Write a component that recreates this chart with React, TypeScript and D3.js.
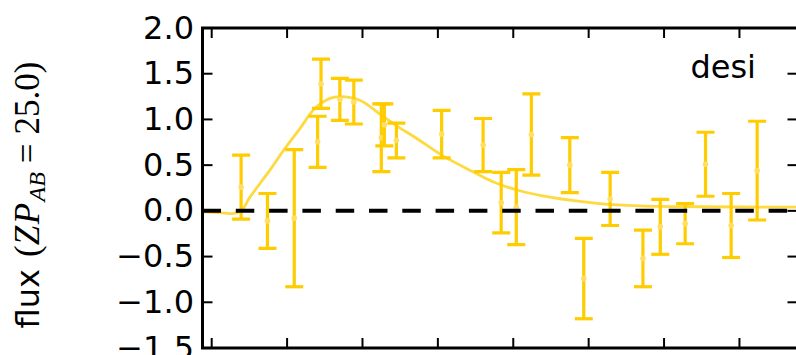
import React from "react";
import * as d3 from "d3";

const xTicks = [-20, 0, 20, 40, 60, 80, 100, 120];
const yTicks = [-1.5, -1.0, -0.5, 0.0, 0.5, 1.0, 1.5, 2.0];

const obsPhase = [-12.2, -5.2, 1.9, 8.1, 9.0, 14.0, 17.7, 25.0, 25.8, 29.0, 41.0, 52.0, 56.8, 60.8, 64.8, 75.0, 78.7, 85.7, 94.4, 99.0, 105.6, 111.0, 117.8, 124.7];
const obsFlux = [0.26, -0.11, -0.08, 0.755, 1.39, 1.22, 1.19, 0.8, 0.94, 0.77, 0.84, 0.72, 0.09, 0.04, 0.835, 0.5, -0.74, 0.13, -0.52, -0.175, -0.14, 0.51, -0.16, 0.44];
const obsErr = [0.35, 0.3, 0.75, 0.28, 0.27, 0.23, 0.24, 0.37, 0.23, 0.19, 0.26, 0.29, 0.33, 0.41, 0.445, 0.3, 0.44, 0.29, 0.31, 0.3, 0.22, 0.35, 0.35, 0.54];

const modelPhase = [-22.4, -17.8, -14.6, -12.2, -9.85, -4.55, -0.6, 3.4, 7.35, 11.35, 14.0, 19.3, 24.9, 29.1, 35.2, 41.0, 49.2, 55.1, 61.7, 69.7, 82.9, 93.5, 109.4, 135.4];
const modelFlux = [-0.01, -0.02, -0.03, 0.0, 0.15, 0.445, 0.68, 0.9, 1.12, 1.23, 1.25, 1.21, 1.05, 0.93, 0.77, 0.61, 0.43, 0.31, 0.22, 0.15, 0.08, 0.055, 0.045, 0.04];

const bandLabel = "desi";

export default function App() {
  const W = 796, H = 355;
  const x = d3.scaleLinear().domain([-22.44, 135.4]).range([202.5, 797.5]);
  const y = d3.scaleLinear().domain([-1.5, 2.0]).range([348, 28]);
  const [x0, x1] = x.range();
  const [yb, yt] = y.range();

  const modelPts = modelPhase.map((p, i) => [p, modelFlux[i]] as [number, number]);
  const line = d3
    .line<[number, number]>()
    .x((d) => x(d[0]))
    .y((d) => y(d[1]))
    .curve(d3.curveCatmullRom.alpha(0.5));

  const gold = "#ffcc00";
  const tickLen = 10;
  const cap = 9;
  const serif = "Liberation Serif";

  return (
    <svg width={W} height={H} style={{ position: "absolute", left: 0, top: 0 }}>
      <rect x={0} y={0} width={W} height={H} fill="#fff" />
      <defs>
        <clipPath id="plotclip">
          <rect x={x0} y={yt} width={x1 - x0} height={yb - yt} />
        </clipPath>
      </defs>
      <g clipPath="url(#plotclip)">
        <path d={line(modelPts) || ""} fill="none" stroke={gold} strokeOpacity={0.75} strokeWidth={2.8} />
        {obsPhase.map((p, i) => {
          const cx = x(p);
          const top = y(obsFlux[i] + obsErr[i]);
          const bot = y(obsFlux[i] - obsErr[i]);
          return (
            <g key={i} stroke={gold} strokeWidth={3.2}>
              <line x1={cx} x2={cx} y1={top} y2={bot} />
              <line x1={cx - cap} x2={cx + cap} y1={top} y2={top} />
              <line x1={cx - cap} x2={cx + cap} y1={bot} y2={bot} />
              <circle cx={cx} cy={y(obsFlux[i])} r={2.8} fill="#ffdf66" stroke="none" />
            </g>
          );
        })}
        <line x1={x0} x2={x1} y1={y(0)} y2={y(0)} stroke="#000" strokeWidth={4} strokeDasharray="18.5 14.8" />
      </g>
      <g stroke="#000" strokeWidth={2}>
        {xTicks.map((t) => (
          <g key={"xt" + t}>
            <line x1={x(t)} x2={x(t)} y1={yt} y2={yt + tickLen} />
            <line x1={x(t)} x2={x(t)} y1={yb} y2={yb - tickLen} />
          </g>
        ))}
        {yTicks.map((t) => (
          <g key={"yt" + t}>
            <line x1={x0} x2={x0 + tickLen} y1={y(t)} y2={y(t)} />
            <line x1={x1} x2={x1 - tickLen} y1={y(t)} y2={y(t)} />
          </g>
        ))}
      </g>
      <rect x={x0} y={yt} width={x1 - x0} height={yb - yt} fill="none" stroke="#000" strokeWidth={3} />
      {yTicks.map((t) => (
        <text
          key={"yl" + t}
          x={194}
          y={y(t) + 10.5}
          textAnchor="end"
          fontFamily="DejaVu Sans"
          fontSize={32}
          fill="#000"
        >
          {t < 0 ? "\u2212" + Math.abs(t).toFixed(1) : t.toFixed(1)}
        </text>
      ))}
      <text x={756} y={77.5} textAnchor="end" fontFamily="DejaVu Sans" fontSize={32} fill="#000">
        {bandLabel}
      </text>
      <text
        transform="translate(39,195) rotate(-90)"
        textAnchor="middle"
        fontFamily="DejaVu Sans"
        fontSize={32}
        fill="#000"
      >
        <tspan>flux </tspan>
        <tspan fontFamily={serif} fontSize={35} dx={2}>(</tspan>
        <tspan fontFamily={serif} fontSize={35} fontStyle="italic" letterSpacing={1.5}>ZP</tspan>
        <tspan fontFamily={serif} fontStyle="italic" fontSize={24} dy={6}>AB</tspan>
        <tspan fontFamily={serif} fontSize={35} dy={-6} dx={9}>=</tspan>
        <tspan fontFamily={serif} fontSize={35} dx={9}>25.0)</tspan>
      </text>
    </svg>
  );
}
